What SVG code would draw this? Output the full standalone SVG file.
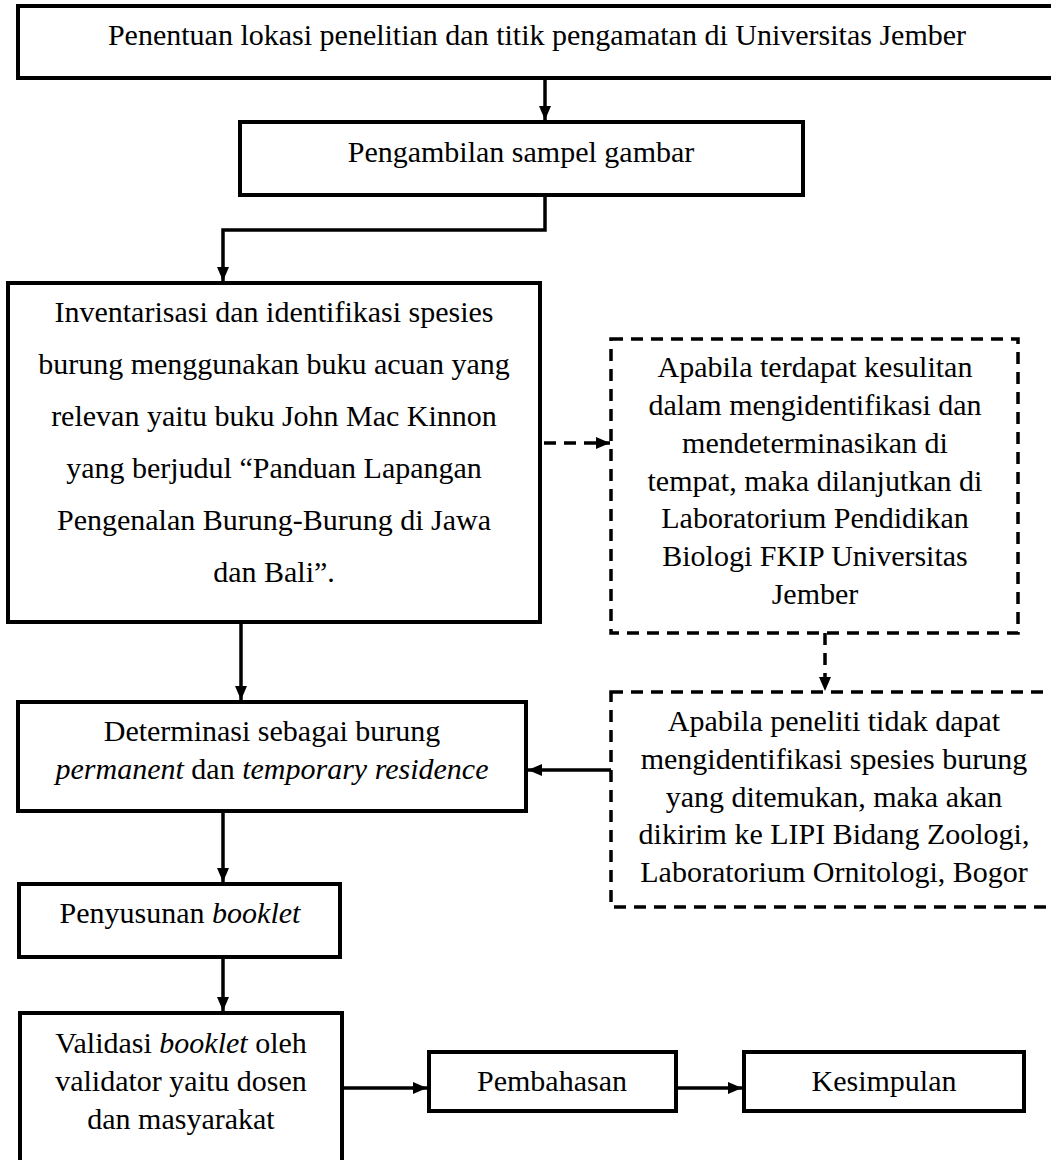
<svg xmlns="http://www.w3.org/2000/svg" width="1051" height="1160" viewBox="0 0 1051 1160">
<style>
.box{fill:none;stroke:#000;stroke-width:4}
.dbox{fill:none;stroke:#000;stroke-width:3.5;stroke-dasharray:12 8}
.t{font-family:"Liberation Serif","Times New Roman",serif;font-size:30px;fill:#000;text-anchor:middle}
.i{font-style:italic}
.c{fill:none;stroke:#000;stroke-width:3.5}
.cd{fill:none;stroke:#000;stroke-width:3.5;stroke-dasharray:12 8}
</style>
<defs>
<marker id="ah" viewBox="0 0 14 12" refX="14" refY="6" markerWidth="14" markerHeight="12" markerUnits="userSpaceOnUse" orient="auto">
<path d="M0,0 L14,6 L0,12 z" fill="#000"/>
</marker>
</defs>
<rect x="0" y="0" width="1051" height="1160" fill="#fff"/>
<g id="n1">
<rect class="box" x="18" y="6" width="1050" height="72"/>
<text class="t" x="537" y="45">Penentuan lokasi penelitian dan titik pengamatan di Universitas Jember</text>
</g>
<g id="n2">
<rect class="box" x="240" y="122" width="563" height="73"/>
<text class="t" x="521" y="162">Pengambilan sampel gambar</text>
</g>
<g id="n3">
<rect class="box" x="8" y="283" width="532" height="339"/>
<text class="t" x="274" y="322">Inventarisasi dan identifikasi spesies</text>
<text class="t" x="274" y="374">burung menggunakan buku acuan yang</text>
<text class="t" x="274" y="426">relevan yaitu buku John Mac Kinnon</text>
<text class="t" x="274" y="478">yang berjudul “Panduan Lapangan</text>
<text class="t" x="274" y="530">Pengenalan Burung-Burung di Jawa</text>
<text class="t" x="274" y="582">dan Bali”.</text>
</g>
<g id="n4">
<rect class="dbox" x="611" y="339" width="407" height="294"/>
<text class="t" x="815" y="377">Apabila terdapat kesulitan</text>
<text class="t" x="815" y="415">dalam mengidentifikasi dan</text>
<text class="t" x="815" y="453">mendeterminasikan di</text>
<text class="t" x="815" y="491">tempat, maka dilanjutkan di</text>
<text class="t" x="815" y="528">Laboratorium Pendidikan</text>
<text class="t" x="815" y="566">Biologi FKIP Universitas</text>
<text class="t" x="815" y="604">Jember</text>
</g>
<g id="n5">
<rect class="box" x="18" y="702" width="508" height="109"/>
<text class="t" x="272" y="741">Determinasi sebagai burung</text>
<text class="t" x="272" y="779"><tspan class="i">permanent</tspan> dan <tspan class="i">temporary residence</tspan></text>
</g>
<g id="n6">
<rect class="dbox" x="611" y="692" width="450" height="215"/>
<text class="t" x="834" y="731">Apabila peneliti tidak dapat</text>
<text class="t" x="834" y="769">mengidentifikasi spesies burung</text>
<text class="t" x="834" y="807">yang ditemukan, maka akan</text>
<text class="t" x="834" y="844">dikirim ke LIPI Bidang Zoologi,</text>
<text class="t" x="834" y="882">Laboratorium Ornitologi, Bogor</text>
</g>
<g id="n7">
<rect class="box" x="19" y="884" width="321" height="73"/>
<text class="t" x="180" y="923">Penyusunan <tspan class="i">booklet</tspan></text>
</g>
<g id="n8">
<rect class="box" x="20" y="1013" width="322" height="170"/>
<text class="t" x="181" y="1053">Validasi <tspan class="i">booklet</tspan> oleh</text>
<text class="t" x="181" y="1091">validator yaitu dosen</text>
<text class="t" x="181" y="1129">dan masyarakat</text>
</g>
<g id="n9">
<rect class="box" x="429" y="1052" width="247" height="59"/>
<text class="t" x="552" y="1091">Pembahasan</text>
</g>
<g id="n10">
<rect class="box" x="744" y="1052" width="280" height="59"/>
<text class="t" x="884" y="1091">Kesimpulan</text>
</g>
<g id="connectors">
<path class="c" d="M545,78 L545,120" marker-end="url(#ah)"/>
<path class="c" d="M545,195 L545,230 L223,230 L223,281" marker-end="url(#ah)"/>
<path class="cd" d="M544,443 L610,443" marker-end="url(#ah)"/>
<path class="cd" d="M825,633 L825,691" marker-end="url(#ah)"/>
<path class="c" d="M241,622 L241,700" marker-end="url(#ah)"/>
<path class="c" d="M611,770 L528,770" marker-end="url(#ah)"/>
<path class="c" d="M223,811 L223,882" marker-end="url(#ah)"/>
<path class="c" d="M223,957 L223,1011" marker-end="url(#ah)"/>
<path class="c" d="M342,1088 L427,1088" marker-end="url(#ah)"/>
<path class="c" d="M676,1088 L742,1088" marker-end="url(#ah)"/>
</g>
</svg>
